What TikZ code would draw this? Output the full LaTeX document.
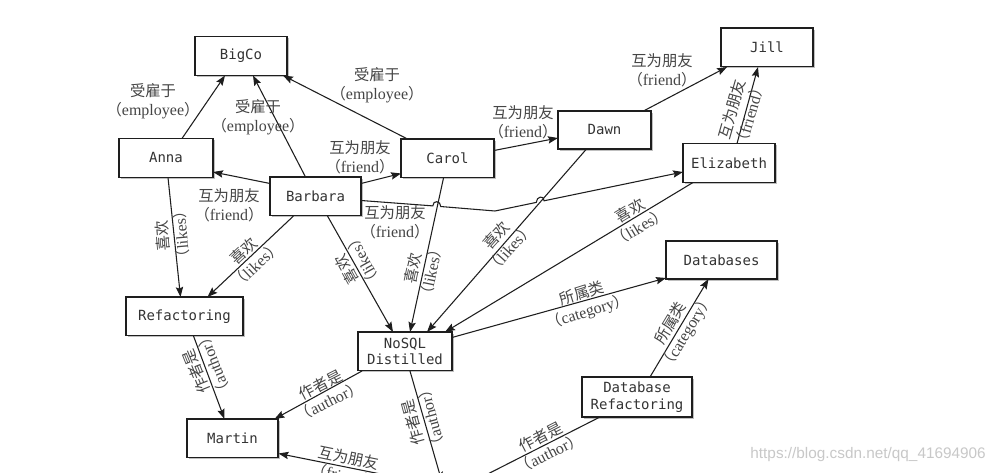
\documentclass[tikz,border=0pt]{standalone}
\usepackage{fontspec}
\setmainfont{Liberation Serif}
\setmonofont{DejaVu Sans Mono}
\newfontfamily\cjk{Noto Sans CJK SC}
\newfontfamily\wmfont{Liberation Sans}
\usetikzlibrary{arrows.meta,calc,shadows}
\definecolor{edgecol}{HTML}{1E1E1E}
\definecolor{lblcol}{HTML}{454545}
\definecolor{boxtext}{HTML}{333333}
\definecolor{wmcol}{HTML}{C8C8C8}
% Chinese relation name and its English gloss in full-width brackets
\newcommand\zh[1]{{\cjk\fontsize{11.5}{14}\selectfont #1}}
\newcommand\en[1]{\zh{（}#1\zh{）}}
\begin{document}
\begin{tikzpicture}[x=0.75pt,y=-0.75pt,
  box/.style={draw=edgecol, line width=1pt, fill=white,
    font=\ttfamily\fontsize{10.5}{12.5}\selectfont, text=boxtext,
    minimum height=29pt, inner sep=0pt, align=center,
    drop shadow={shadow xshift=1.2pt, shadow yshift=-1.2pt, fill=black, opacity=0.25}},
  rel/.style={draw=edgecol, line width=0.8pt,
    -{Stealth[length=7.5pt,width=5.5pt,inset=1.2pt]}},
  lbl/.style={font=\fontsize{12}{14}\selectfont, text=lblcol, align=center, inner sep=0pt},
]
\useasboundingbox (0,0) rectangle (996,473);
\fill[white] (0,0) rectangle (996,473);
\clip (0,0) rectangle (996,473);

% ---- entities ----
\node[box, minimum width=69pt]    (bigco)   at (241,56)      {BigCo};
\node[box, minimum width=70.5pt]  (anna)    at (166,158)     {Anna};
\node[box, minimum width=68.25pt] (barbara) at (315.5,196.5) {Barbara};
\node[box, minimum width=69.75pt] (carol)   at (447.5,158.5) {Carol};
\node[box, minimum width=69.75pt, minimum height=28.5pt] (dawn) at (604.5,130) {Dawn};
\node[box, minimum width=69pt]    (jill)    at (767,47.5)    {Jill};
\node[box, minimum width=69pt]    (eliz)    at (729,163)     {Elizabeth};
\node[box, minimum width=83.25pt, minimum height=28.5pt] (dbs) at (721.5,260) {Databases};
\node[box, minimum width=87.75pt] (refac)   at (184.5,316.5) {Refactoring};
\node[box, minimum width=70.5pt]  (nosql)   at (405,351.5)   {NoSQL\\Distilled};
\node[box, minimum width=82.5pt, minimum height=30pt] (dbref) at (637,397) {Database\\Refactoring};
\node[box, minimum width=68.25pt] (martin)  at (232.5,438.5) {Martin};

% ---- ends of connectors that leave the frame ----
\coordinate (offA) at (442,482);
\coordinate (offB) at (470,483);
\coordinate (offC) at (520,502);

% ---- employee ----
\draw[rel] ($(anna)+(16,-19.5)$) -- ($(bigco)+(-16,19.5)$);
\draw[rel] ($(barbara)+(-10,-19.5)$) -- ($(bigco)+(12,19.5)$);
\draw[rel] ($(carol)+(-40,-19.5)$) -- ($(bigco)+(42,19.5)$);

% ---- friend ----
\draw[rel] ($(barbara)+(-45.5,-13)$) -- ($(anna)+(47,14)$);
\draw[rel] ($(barbara)+(45.5,-13)$) -- ($(carol)+(-46.5,15)$);
\draw[rel] ($(carol)+(46.5,-8)$) -- ($(dawn)+(-46.5,8)$);
\draw[rel] ($(dawn)+(39,-19)$) -- ($(jill)+(-40,19.5)$);
\draw[rel] ($(eliz)+(8,-19.5)$) -- ($(jill)+(-9,19.5)$);
\draw[rel] (offC) -- ($(martin)+(46,15)$);

% Barbara -> Elizabeth, hopping over two crossing lines
\coordinate (bs)   at ($(barbara)+(45.5,4)$);
\coordinate (bend) at (495,211);
\coordinate (be)   at ($(eliz)+(-46,9)$);
\coordinate (h1)   at (436.8,206.2);
\coordinate (h2)   at (540.2,201.6);
\draw[rel] (bs) -- ($(h1)!3pt!(bs)$)
  .. controls +(0,-6) and +(0,-6) .. ($(h1)!3pt!(bend)$) -- (bend)
  -- ($(h2)!3pt!(bend)$)
  .. controls +(0,-6) and +(0,-6) .. ($(h2)!3pt!(be)$) -- (be);

% ---- likes ----
\draw[rel] ($(anna)+(2,19.5)$) -- ($(refac)+(-4,-19.5)$);
\draw[rel] ($(barbara)+(-22,19.5)$) -- ($(refac)+(23,-19.5)$);
\draw[rel] ($(barbara)+(12,19.5)$) -- ($(nosql)+(-12,-19.5)$);
\draw[rel] ($(carol)+(-4,19.5)$) -- ($(nosql)+(5,-19.5)$);
\draw[rel] ($(dawn)+(-18,19)$) -- ($(nosql)+(22,-19.5)$);
\draw[rel] ($(eliz)+(-36,19.5)$) -- ($(nosql)+(40,-19.5)$);

% ---- category ----
\draw[rel] ($(nosql)+(47,-14)$) -- ($(dbs)+(-55.5,18)$);
\draw[rel] ($(dbref)+(13,-20)$) -- ($(dbs)+(-13,19)$);

% ---- author ----
\draw[rel] ($(refac)+(9,19.5)$) -- ($(martin)+(-8,-19.5)$);
\draw[rel] ($(nosql)+(-43,19.5)$) -- ($(martin)+(42,-19.5)$);
\draw[rel] ($(nosql)+(5,19.5)$) -- (offA);
\draw[rel] ($(dbref)+(-37,20)$) -- (offB);

% ---- relation labels ----
\node[lbl] (lab1) at (153,101) {\zh{受雇于}\\\en{employee}};
\node[lbl] (lab2) at (258,117) {\zh{受雇于}\\\en{employee}};
\node[lbl] (lab3) at (377,85)  {\zh{受雇于}\\\en{employee}};
\node[lbl] (lab4) at (229,205) {\zh{互为朋友}\\\en{friend}};
\node[lbl] (lab5) at (360,157) {\zh{互为朋友}\\\en{friend}};
\node[lbl] (lab6) at (395,222) {\zh{互为朋友}\\\en{friend}};
\node[lbl] (lab7) at (523,122) {\zh{互为朋友}\\\en{friend}};
\node[lbl] (lab8) at (662,70)  {\zh{互为朋友}\\\en{friend}};
\node[lbl, rotate=74]    (lab9)  at (741,112) {\zh{互为朋友}\\\en{friend}};
\node[lbl, rotate=95]    (lab10) at (172,235) {\zh{喜欢}\\\en{likes}};
\node[lbl, rotate=43]    (lab11) at (250,258) {\zh{喜欢}\\\en{likes}};
\node[lbl, rotate=119]   (lab12) at (355,265) {\zh{喜欢}\\\en{likes}};
\node[lbl, rotate=78]    (lab13) at (422,270) {\zh{喜欢}\\\en{likes}};
\node[lbl, rotate=48]    (lab14) at (503,242) {\zh{喜欢}\\\en{likes}};
\node[lbl, rotate=31]    (lab15) at (635,219) {\zh{喜欢}\\\en{likes}};
\node[lbl, rotate=17.6]  (lab16) at (585,303) {\zh{所属类}\\\en{category}};
\node[lbl, rotate=59]    (lab17) at (679,328) {\zh{所属类}\\\en{category}};
\node[lbl, rotate=112]   (lab18) at (205,368) {\zh{作者是}\\\en{author}};
\node[lbl, rotate=27]    (lab19) at (325,393) {\zh{作者是}\\\en{author}};
\node[lbl, rotate=105]   (lab20) at (422,420) {\zh{作者是}\\\en{author}};
\node[lbl, rotate=27]    (lab21) at (545,445) {\zh{作者是}\\\en{author}};
\node[lbl, rotate=-11.6] (lab22) at (347,467) {\zh{互为朋友}\\\en{friend}};

% ---- source note ----
\node[font=\wmfont\fontsize{11.5}{13}\selectfont, text=wmcol, anchor=east, inner sep=0pt]
  (wm) at (986,455) {https://blog.csdn.net/qq\_41694906};
\end{tikzpicture}
\end{document}
